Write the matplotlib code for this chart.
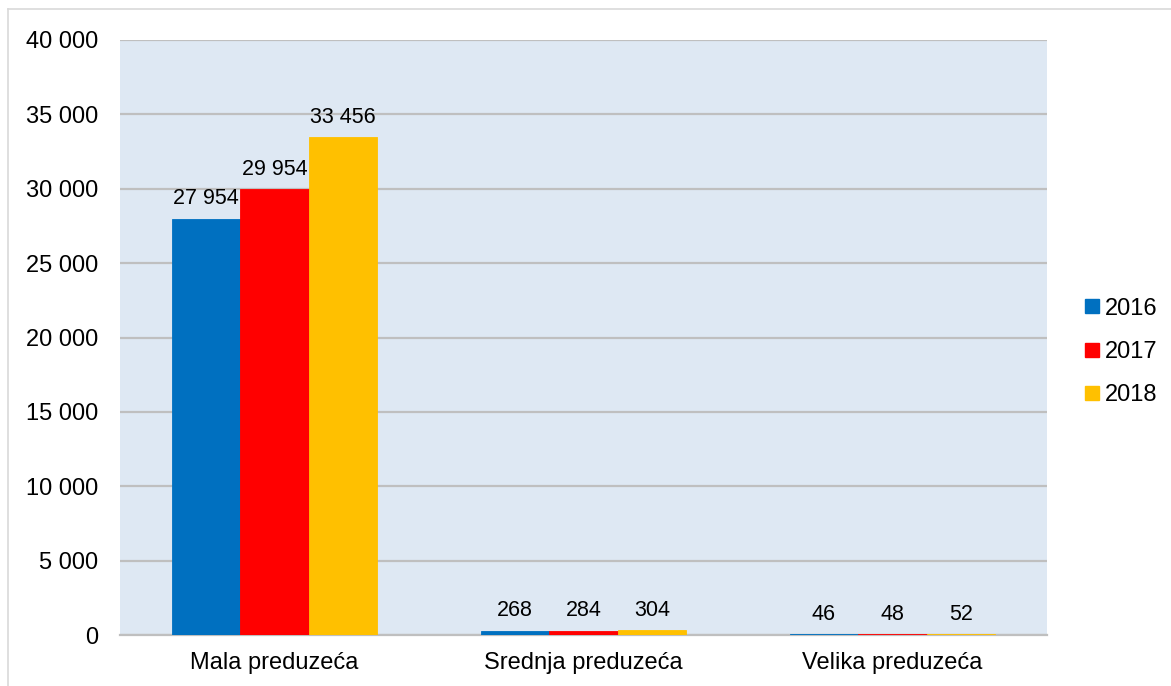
import matplotlib
matplotlib.use("Agg")
import matplotlib.pyplot as plt
import numpy as np
from matplotlib.ticker import FuncFormatter
from matplotlib.lines import Line2D

categories = ["Mala preduzeća", "Srednja preduzeća", "Velika preduzeća"]
years = ["2016", "2017", "2018"]
values_2016 = [27954, 268, 46]
values_2017 = [29954, 284, 48]
values_2018 = [33456, 304, 52]
colors = ["#0070C0", "#FF0000", "#FFC000"]

plt.rcParams['font.family'] = ['Liberation Sans', 'DejaVu Sans']

fig = plt.figure(figsize=(11.71, 6.86), dpi=100)
ax = fig.add_axes([120/1171, 51/686, 927/1171, 595/686])
ax.set_facecolor("#DEE8F3")

def fmt(v):
    return f"{int(v):,}".replace(",", " ")

series = [values_2016, values_2017, values_2018]
x = np.arange(len(categories))
w = 0.2222
for i, (vals, c, yr) in enumerate(zip(series, colors, years)):
    pos = x + (i - 1) * w
    ax.bar(pos, vals, width=w, color=c, label=yr, zorder=3, edgecolor=c, linewidth=0.6)
    for px_, v in zip(pos, vals):
        ax.annotate(fmt(v), (px_, v), xytext=(0, 7), textcoords="offset points",
                    ha="center", va="bottom", fontsize=15.5, color="#000000", zorder=4)

ax.set_xlim(-0.5, 2.5)
ax.set_ylim(0, 40000)
ax.set_yticks(np.arange(0, 40001, 5000))
ax.yaxis.set_major_formatter(FuncFormatter(lambda v, p: fmt(v)))
ax.grid(axis="y", color="#BFBFBF", linewidth=1.6, zorder=0)
ax.set_axisbelow(True)
for s in ["top", "right", "left"]:
    ax.spines[s].set_visible(False)
ax.spines["bottom"].set_color("#BFBFBF")
ax.spines["bottom"].set_linewidth(1.6)
ax.spines["bottom"].set_zorder(2)
ax.tick_params(axis="both", length=0, labelsize=17, colors="#000000")
ax.tick_params(axis="y", pad=16)
ax.tick_params(axis="x", pad=12)
ax.set_xticks(x)
ax.set_xticklabels(categories)

handles = [Line2D([0], [0], marker="s", linestyle="none", markersize=10,
                  markerfacecolor=c, markeredgecolor=c) for c in colors]
fig.legend(handles, years, loc="center left", bbox_to_anchor=(1068/1171, 0.487),
           frameon=False, fontsize=17, handletextpad=0.05, labelspacing=0.9,
           handlelength=1.0, borderpad=0)

# light outer border (top and left)
fig.add_artist(Line2D([8/1171, 1], [1 - 9/686, 1 - 9/686], color="#D9D9D9", linewidth=1.2))
fig.add_artist(Line2D([8/1171, 8/1171], [0, 1 - 9/686], color="#D9D9D9", linewidth=1.2))

fig.savefig("out.png", dpi=100)
